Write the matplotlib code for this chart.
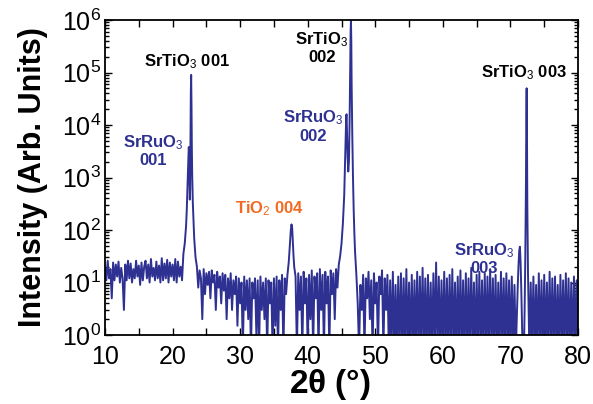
import numpy as np
import matplotlib
matplotlib.use("Agg")
import matplotlib.pyplot as plt
from matplotlib.ticker import MultipleLocator, LogLocator, NullFormatter

plt.rcParams['font.family'] = ['Liberation Sans', 'DejaVu Sans']
plt.rcParams['mathtext.fontset'] = 'custom'
plt.rcParams['mathtext.rm'] = 'Liberation Sans'
plt.rcParams['mathtext.it'] = 'Liberation Sans:italic'
plt.rcParams['mathtext.bf'] = 'Liberation Sans:bold'

STEP = 0.2  # background scan step (deg)

# background segments (counts), each starts at the given 2theta
bgA_start = 10.0
bgA = [20, 11, 26, 12, 18, 5, 24, 11, 22, 13,
       25, 10, 19, 12, 3, 22, 11, 26, 12, 23,
       10, 18, 12, 26, 13, 21, 9, 24, 11, 20,
       26, 12, 22, 10, 28, 13, 19, 11, 25, 12,
       21, 10, 29, 11, 23, 12, 27, 10, 24, 13,
       22, 11, 28, 10, 25, 13, 20, 11]

bgB_start = 23.6
bgB = [20, 8, 17, 12, 2, 18, 6, 15, 9, 16,
       5, 17, 10, 14, 3, 16, 8, 13, 4, 15,
       7, 14, 2, 12, 5, 15, 3, 11, 6, 13,
       1.5, 12, 4, 10, 0.5, 13, 3, 11, 2, 12,
       0.5, 10, 5, 12, 1, 11, 0.5, 13, 3, 10,
       2, 12, 0.5, 11, 4, 10, 0.5, 12, 1.5, 13,
       0.5, 11, 3, 14, 0.5, 12, 6]

bgC_start = 38.4
bgC = [0.5, 15, 3, 13, 0.5, 16, 4, 12, 0.5, 14,
       2, 17, 0.5, 13, 5, 15, 0.5, 18, 3, 14,
       0.5, 16, 4, 13, 0.5, 17, 6, 15, 2, 18,
       8]

bgD_start = 47.6
bgD = [0.5, 9, 3, 14, 0.5, 12, 5, 16, 2, 11,
       0.5, 15, 4, 10, 0.5, 13, 6, 17, 0.5, 12,
       3, 14, 0.5, 11, 0.5, 16, 0.5, 9, 0.5, 13,
       0.5, 15, 0.5, 12, 0.5, 18, 0.5, 10, 0.5, 14,
       0.5, 11, 0.5, 16, 0.5, 13, 0.5, 19, 0.5, 12,
       0.5, 14, 0.5, 10, 0.5, 15, 0.5, 24, 0.5, 13,
       0.5, 11, 0.5, 16, 0.5, 12, 0.5, 14, 0.5, 18,
       0.5, 10, 0.5, 13, 0.5, 17, 0.5, 11, 0.5, 15,
       0.5, 12, 0.5, 19, 0.5, 10, 0.5, 14, 0.5, 16,
       0.5, 11, 0.5, 15, 0.5, 13, 0.5, 18, 0.5, 12,
       0.5, 14, 0.5, 10, 0.5, 16, 0.5, 12, 0.5, 15,
       0.5, 11, 0.5, 13, 0.5, 9]

bgE_start = 73.2
bgE = [0.5, 13, 0.5, 9, 0.5, 15, 0.5, 11, 0.5, 14,
       0.5, 10, 0.5, 16, 0.5, 12, 0.5, 13, 0.5, 9,
       0.5, 14, 0.5, 11, 0.5, 15, 0.5, 12, 0.5, 10,
       0.5, 13, 0.5, 11, 0.5]

# peak regions, finer sampling
pk001_tt = [21.6, 21.8, 22.0, 22.1, 22.2, 22.3, 22.4, 22.45, 22.5, 22.55, 22.6,
            22.65, 22.7, 22.75, 22.8, 22.85, 22.9, 23.0, 23.1, 23.2, 23.3, 23.4]
pk001 = [35, 55, 120, 240, 650, 1600, 3800, 3000, 900, 380, 600,
         5000, 40000, 90000, 25000, 4000, 1200, 320, 140, 70, 45, 30]

pkTiO2_tt = [37.0, 37.2, 37.3, 37.4, 37.5, 37.6, 37.7, 37.8, 37.9, 38.0, 38.2]
pkTiO2 = [14, 25, 40, 65, 100, 128, 110, 60, 32, 20, 13]

pk002_tt = [44.6, 44.8, 45.0, 45.2, 45.4, 45.5, 45.6, 45.7, 45.75, 45.8, 45.9,
            46.0, 46.1, 46.2, 46.3, 46.35, 46.4, 46.45, 46.5, 46.6, 46.7,
            46.8, 46.9, 47.0, 47.2, 47.4]
pk002 = [22, 32, 55, 130, 450, 1500, 6000, 15000, 16000, 9000, 2500,
         1300, 2000, 12000, 150000, 600000, 1000000, 400000, 60000, 6000, 1000,
         250, 90, 40, 14, 4]

pk003_tt = [70.8, 71.0, 71.1, 71.2, 71.3, 71.4, 71.5, 71.6, 71.8, 72.0,
            72.1, 72.2, 72.3, 72.35, 72.4, 72.45, 72.5, 72.6, 72.8, 73.0]
pk003 = [0.5, 4, 10, 22, 40, 48, 25, 8, 0.5, 0.5,
         3, 30, 800, 12000, 50000, 6000, 300, 15, 0.5, 10]


def seg(start, vals):
    return start + STEP * np.arange(len(vals)), np.array(vals, dtype=float)


parts = [seg(bgA_start, bgA), (np.array(pk001_tt), np.array(pk001, dtype=float)),
         seg(bgB_start, bgB), (np.array(pkTiO2_tt), np.array(pkTiO2, dtype=float)),
         seg(bgC_start, bgC), (np.array(pk002_tt), np.array(pk002, dtype=float)),
         seg(bgD_start, bgD), (np.array(pk003_tt), np.array(pk003, dtype=float)),
         seg(bgE_start, bgE)]
tt = np.concatenate([p[0] for p in parts])
counts = np.concatenate([p[1] for p in parts])
order = np.argsort(tt)
tt, counts = tt[order], counts[order]

navy = '#2e3192'
orange = '#f26a21'

fig = plt.figure(figsize=(5.93, 4.04), dpi=100)
ax = fig.add_axes([105 / 593, 1 - 335 / 404, 473 / 593, 315 / 404])
ax.plot(tt, counts, color=navy, lw=1.4)
ax.set_yscale('log')
ax.set_xlim(10, 80)
ax.set_ylim(1, 1e6)

ax.xaxis.set_major_locator(MultipleLocator(10))
ax.xaxis.set_minor_locator(MultipleLocator(5))
ax.yaxis.set_major_locator(LogLocator(base=10, numticks=10))
ax.yaxis.set_minor_locator(LogLocator(base=10, subs=np.arange(2, 10), numticks=10))
ax.yaxis.set_minor_formatter(NullFormatter())
ax.tick_params(which='both', direction='in', top=True, right=True, width=1.0)
ax.tick_params(which='major', length=5, labelsize=18, pad=3)
ax.tick_params(axis='x', which='major', pad=7)
ax.tick_params(which='minor', length=3)
ax.tick_params(axis='x', which='minor', length=5)
for s in ax.spines.values():
    s.set_linewidth(1.3)

ax.set_ylabel('Intensity (Arb. Units)', fontsize=22, fontweight='bold', labelpad=10)
ax.set_xlabel(r'2$\mathbf{\theta}$ (°)', fontsize=24, fontweight='bold')
ax.xaxis.set_label_coords(0.476, -0.1)

lab = dict(fontsize=12, fontweight='bold', ha='center', va='center', linespacing=1.1)
ax.text(22.2, 1.6e5, 'SrTiO$_3$ 001', color='black', **lab)
ax.text(17.1, 3.3e3, 'SrRuO$_3$\n001', color=navy, **lab)
ax.text(42.1, 3.0e5, 'SrTiO$_3$\n002', color='black', **lab)
ax.text(40.8, 9.5e3, 'SrRuO$_3$\n002', color=navy, **lab)
ax.text(34.4, 2.6e2, 'TiO$_2$ 004', color=orange, **lab)
ax.text(66.1, 28, 'SrRuO$_3$\n003', color=navy, **lab)
ax.text(72.0, 1.0e5, 'SrTiO$_3$ 003', color='black', **lab)

fig.savefig('out.png', dpi=100)
